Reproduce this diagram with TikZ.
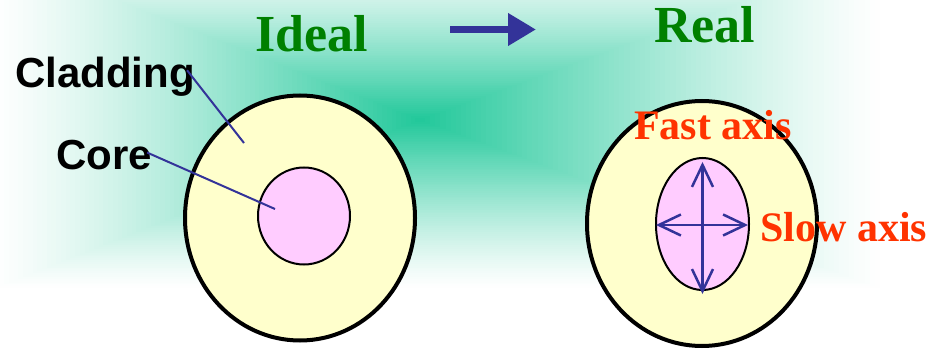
\documentclass[tikz,border=0pt]{standalone}
\usepackage{fontspec}
\setmainfont{Liberation Serif}
\setsansfont{Liberation Sans}
\usetikzlibrary{shapes.geometric,arrows.meta}
\definecolor{glow}{RGB}{32,200,154}
\definecolor{titlegreen}{RGB}{0,128,0}
\definecolor{axisred}{RGB}{255,51,0}
\definecolor{navy}{RGB}{51,51,153}
\definecolor{claddingfill}{RGB}{255,255,204}
\definecolor{corefill}{RGB}{255,204,255}

\begin{document}
\begin{tikzpicture}[x=1pt,y=-1pt,
  cladding/.style={ellipse, draw=black, line width=4pt, fill=claddingfill,
    inner sep=0pt, outer sep=0pt, minimum width=230pt, minimum height=245pt},
  corebox/.style={ellipse, draw=black, line width=2pt, fill=corefill,
    inner sep=0pt, outer sep=0pt},
  title/.style={font=\bfseries\fontsize{52}{52}\selectfont, text=titlegreen,
    inner sep=0pt, anchor=base west},
  axislabel/.style={font=\bfseries\fontsize{42}{42}\selectfont, text=axisred,
    inner sep=0pt, anchor=base west},
  partlabel/.style={font=\sffamily\bfseries\fontsize{42}{42}\selectfont,
    text=black, inner sep=0pt, anchor=base west},
  leader/.style={draw=navy, line width=2pt},
  axisarrow/.style={draw=navy, line width=2.5pt,
    {Straight Barb[length=22pt,width=21pt]}-{Straight Barb[length=22pt,width=21pt]}},
  bigarrow/.style={draw=navy, line width=7pt, -{Triangle[length=28pt,width=31pt]}},
]
\useasboundingbox (0,0) rectangle (930,350);
\fill[white] (0,0) rectangle (930,350);

% soft rectangular glow: nested rectangles, greener towards the centre (420,120)
\begin{scope}
  \clip (0,0) rectangle (930,350);
  \foreach \i in {1,...,90}{
    \pgfmathsetmacro\s{1-\i/91}
    \pgfmathsetmacro\t{pow(\i/91,1.25)}
    \pgfmathtruncatemacro\rr{255-223*\t}
    \pgfmathtruncatemacro\gg{255-55*\t}
    \pgfmathtruncatemacro\bb{255-101*\t}
    \definecolor{glowstep}{RGB}{\rr,\gg,\bb}
    \fill[glowstep] ({420-430*\s},{120-170*\s}) rectangle ({420+465*\s},{120+170*\s});
  }
\end{scope}

% ideal fibre
\node[cladding] (lclad) at (300,218) {};
\node[corebox, minimum width=92pt, minimum height=97pt] (lcore) at (304,216) {};

% real fibre
\node[cladding] (rclad) at (702,223.5) {};
\node[corebox, minimum width=93pt, minimum height=132pt] (rcore) at (702.5,224) {};

% titles and the arrow between them
\node[title] (ideal) at (255,52) {Ideal};
\node[title] (real) at (654,43) {Real};
\coordinate (arrowtail) at (450,29.5);
\coordinate (arrowtip) at (536,29.5);
\draw[bigarrow] (arrowtail) -- (arrowtip);

% part labels with leader lines
\node[partlabel] (cladlabel) at (15,88) {Cladding};
\node[partlabel] (corelabel) at (56,170) {Core};
\coordinate (cladpt) at (244,143);
\coordinate (corept) at (275,209);
\draw[leader] ([shift={(-8,-7)}]cladlabel.east) -- (cladpt);
\draw[leader] ([shift={(-5,-3)}]corelabel.east) -- (corept);

% birefringent axes
\draw[axisarrow] ([yshift=-4pt]rcore.north) -- ([yshift=-4pt]rcore.south);
\draw[axisarrow] ([yshift=-1pt]rcore.west) -- ([xshift=-1pt,yshift=-1pt]rcore.east);
\node[axislabel] (fast) at (634,140) {Fast axis};
\node[axislabel] (slow) at (760,241) {Slow axis};
\end{tikzpicture}
\end{document}
